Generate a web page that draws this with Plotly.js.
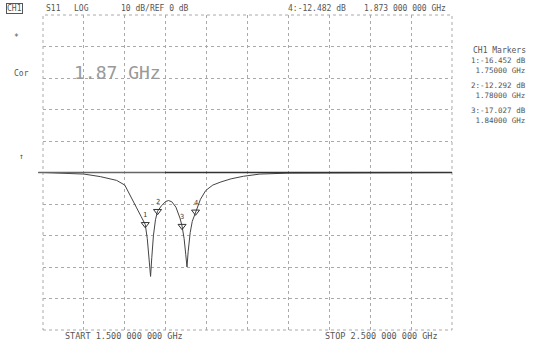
<!DOCTYPE html>
<html><head><meta charset="utf-8">
<script src="https://cdn.plot.ly/plotly-3.0.1.min.js"></script>
<style>html,body{margin:0;padding:0;background:#fff;}#chart{width:541px;height:341px;}</style>
</head><body><div id="chart"></div>
<script>
// S11 trace (GHz, dB)
const freqGHz = [1.50,1.55,1.60,1.64,1.68,1.70,1.715,1.728,1.74,1.75,1.755,1.76,1.763,1.766,1.77,1.775,1.78,1.79,1.80,1.807,1.815,1.825,1.835,1.84,1.845,1.849,1.852,1.855,1.86,1.865,1.873,1.885,1.898,1.915,1.935,1.96,1.99,2.03,2.10,2.20,2.30,2.40,2.50];
const s11dB   = [0,-0.2,-0.5,-1.3,-2.5,-4,-7.5,-11,-14,-16.5,-21,-28,-33,-27,-20,-15,-12.3,-10.5,-9.2,-8.9,-9.3,-11,-14.5,-17,-21,-26,-30,-25,-19,-15.5,-12.5,-8.5,-5.7,-4,-3,-2,-1.2,-0.5,-0.2,-0.1,0,0,0];
// markers
const markerNames = ["1","2","3","4"];
const markerFreq  = [1.75,1.78,1.84,1.873];
const markerVal   = [-16.452,-12.292,-17.027,-12.482];
// labels
const headerLabels = ["CH1","S11","LOG","10 dB/REF 0 dB","4:-12.482 dB","1.873 000 000 GHz"];
const markerListTitle = "CH1 Markers";
const markerListLabels = ["1:-16.452 dB<br>1.75000 GHz","2:-12.292 dB<br>1.78000 GHz","3:-17.027 dB<br>1.84000 GHz"];
const startLabel = "START 1.500 000 000 GHz";
const stopLabel  = "STOP 2.500 000 000 GHz";
const bigLabel = "1.87 GHz";
const xTicks = [1.5,1.6,1.7,1.8,1.9,2.0,2.1,2.2,2.3,2.4,2.5];
const yTicks = [-50,-40,-30,-20,-10,0,10,20,30,40,50];

const L=43, R=452, T=15, B=330;
const px = x => (x-L)/(R-L);
const py = y => (B-y)/(B-T);
const MONO = "DejaVu Sans Mono, monospace";
const F = {family:MONO, size:8, color:"#555"};

const ann = [];
function add(text,x,y,opt){ ann.push(Object.assign({text:text,xref:"paper",yref:"paper",x:px(x),y:py(y),showarrow:false,xanchor:"left",yanchor:"middle",font:F},opt||{})); }
add(headerLabels[0],6,8,{bordercolor:"#555",borderwidth:1,borderpad:0});
add(headerLabels[1],44,8);
add(headerLabels[2],72,8);
add(headerLabels[3],119,8);
add(headerLabels[4],286,8);
add(headerLabels[5],362,8);
add("*",12,38);
add("Cor",12,73);
add("↑",17,157);
add(bigLabel,72,72,{font:{family:MONO,size:18,color:"#999"}});
add(markerListTitle,471,50,{font:{family:MONO,size:8,color:"#555"}});
const ry=[65,90,115];
markerListLabels.forEach((t,i)=>add(t,469,ry[i],{align:"right",font:{family:MONO,size:7.5,color:"#555"}}));
add(startLabel,63,336,{font:{family:MONO,size:8.5,color:"#555"}});
add(stopLabel,323,336,{font:{family:MONO,size:8.5,color:"#555"}});
markerNames.forEach((n,i)=>ann.push({text:n,x:markerFreq[i],y:markerVal[i],xref:"x",yref:"y",showarrow:false,yshift:9,font:{family:MONO,size:7,color:"#444"}}));

const data = [
 {x:freqGHz,y:s11dB,type:"scatter",mode:"lines",line:{color:"#444",width:1},hoverinfo:"skip"},
 {x:markerFreq,y:markerVal,type:"scatter",mode:"markers",marker:{symbol:"triangle-down-open",size:7,color:"#333",line:{width:1}},hoverinfo:"skip"}
];
const layout = {
 width:541,height:341,margin:{l:L,r:541-R,t:T,b:341-B},
 paper_bgcolor:"#fff",plot_bgcolor:"#fff",showlegend:false,
 xaxis:{range:[1.5,2.5],tickvals:xTicks,showticklabels:false,ticks:"",showgrid:true,gridcolor:"#aaa",griddash:"dot",gridwidth:1,zeroline:false,showline:false,fixedrange:true},
 yaxis:{range:[-50,50],tickvals:yTicks,showticklabels:false,ticks:"",showgrid:true,gridcolor:"#aaa",griddash:"dot",gridwidth:1,zeroline:false,showline:false,fixedrange:true},
 shapes:[
  {type:"rect",xref:"paper",yref:"paper",x0:0,x1:1,y0:0,y1:1,line:{color:"#aaa",width:1,dash:"dot"}},
  {type:"line",xref:"paper",yref:"y",x0:-0.012,x1:px(165),y0:0,y1:0,line:{color:"#666",width:1.5}},
  {type:"line",xref:"paper",yref:"y",x0:px(165),x1:1,y0:0,y1:0,line:{color:"#333",width:1.5}}
 ],
 annotations:ann
};
Plotly.newPlot("chart",data,layout,{staticPlot:true,displayModeBar:false});
</script></body></html>
